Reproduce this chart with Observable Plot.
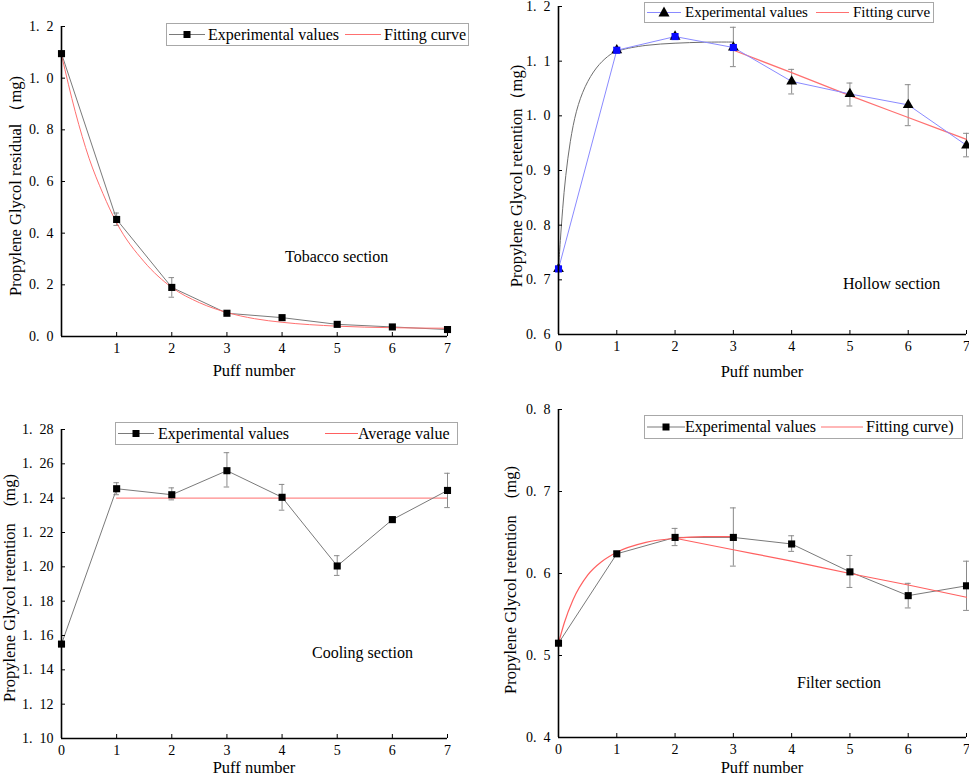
<!DOCTYPE html>
<html>
<head>
<meta charset="utf-8">
<script src="https://cdn.jsdelivr.net/npm/d3@7"></script>
<script src="https://cdn.jsdelivr.net/npm/@observablehq/plot@0.6"></script>
<style>
  html, body { margin: 0; padding: 0; background: #fff; }
  #root { position: relative; width: 969px; height: 779px; background: #fff; overflow: hidden;
          font-family: "Liberation Serif", "DejaVu Serif", serif; color: #000; }
  #root svg text { font-family: "Liberation Serif", "DejaVu Serif", serif !important; }
  .panel { position: absolute; }
  .ttl { position: absolute; white-space: nowrap; font-size: 16.5px; line-height: 1; }
  .ytl { transform: translate(-50%, -50%) rotate(-90deg); }
  .xtl { transform: translate(-50%, -50%); }
  .sec { position: absolute; white-space: nowrap; font-size: 16px; line-height: 1; transform: translateY(-50%); }
  .lg { position: absolute; border: 1px solid #a8a8a8; box-sizing: border-box; background: #fff; font-size: 16px; }
  .lg span { position: absolute; top: 0; white-space: nowrap; }
  .lg svg { position: absolute; top: 0; }
</style>
</head>
<body>
<div id="root"></div>
<script>
// ---------------- DATA ----------------
const puffs = [0, 1, 2, 3, 4, 5, 6, 7];

// Tobacco section (residual)
const tobaccoExp = [1.095, 0.453, 0.190, 0.090, 0.073, 0.047, 0.037, 0.027];
const tobaccoLo  = [1.090, 0.430, 0.152, 0.085, 0.068, 0.043, 0.033, 0.022];
const tobaccoHi  = [1.100, 0.478, 0.228, 0.095, 0.078, 0.051, 0.041, 0.032];
const tobaccoFitX = [0, 0.25, 0.5, 0.75, 1, 1.5, 2, 2.5, 3, 3.5, 4, 5, 6, 7];
const tobaccoFitY = [1.09, 0.87, 0.69, 0.554, 0.44, 0.289, 0.19, 0.131, 0.093, 0.069, 0.055, 0.040, 0.034, 0.032];

// Hollow section (retention)
const hollowExp = [0.720, 1.120, 1.145, 1.125, 1.063, 1.040, 1.020, 0.946];
const hollowLo  = [0.715, 1.115, 1.140, 1.090, 1.040, 1.018, 0.982, 0.925];
const hollowHi  = [0.725, 1.125, 1.150, 1.162, 1.085, 1.060, 1.057, 0.968];
const hollowBluePuffs = [0, 1, 2, 3];
const hollowBlue = [0.720, 1.120, 1.145, 1.125];
const hollowFit1X = [0, 0.03, 0.07, 0.12, 0.2, 0.3, 0.45, 0.65, 0.85, 1, 1.5, 2, 2.5, 3];
const hollowFit1Y = [0.72, 0.77, 0.83, 0.89, 0.955, 1.01, 1.055, 1.09, 1.11, 1.12, 1.13, 1.133, 1.135, 1.135];
const hollowFit2X = [3, 4, 5, 6, 7];
const hollowFit2Y = [1.120, 1.079, 1.037, 0.997, 0.957];

// Cooling section (retention)
const coolingExp = [1.155, 1.2455, 1.242, 1.256, 1.2405, 1.2005, 1.2275, 1.2445];
const coolingLo  = [1.154, 1.242, 1.239, 1.2465, 1.233, 1.195, 1.226, 1.2345];
const coolingHi  = [1.156, 1.249, 1.246, 1.2665, 1.248, 1.2065, 1.229, 1.2545];
const coolingAvgX = [1, 7];
const coolingAvg = 1.24;

// Filter section (retention)
const filterExp = [0.515, 0.624, 0.644, 0.644, 0.636, 0.602, 0.573, 0.585];
const filterLo  = [0.513, 0.621, 0.634, 0.609, 0.627, 0.583, 0.558, 0.555];
const filterHi  = [0.517, 0.627, 0.655, 0.680, 0.646, 0.622, 0.588, 0.615];
const filterFit1X = [0, 0.1, 0.25, 0.5, 0.75, 1, 1.5, 2, 2.5, 3];
const filterFit1Y = [0.515, 0.54, 0.568, 0.598, 0.615, 0.626, 0.638, 0.643, 0.645, 0.645];
const filterFit2X = [2, 3, 4, 5, 6, 7];
const filterFit2Y = [0.643, 0.629, 0.615, 0.600, 0.586, 0.571];

// Tick values
const xTicksTobacco = [1, 2, 3, 4, 5, 6, 7];
const xTicks = [0, 1, 2, 3, 4, 5, 6, 7];
const yTicksTobacco = [0, 0.2, 0.4, 0.6, 0.8, 1.0, 1.2];
const yTicksHollow = [0.6, 0.7, 0.8, 0.9, 1.0, 1.1, 1.2];
const yTicksCooling = [1.10, 1.12, 1.14, 1.16, 1.18, 1.20, 1.22, 1.24, 1.26, 1.28];
const yTicksFilter = [0.4, 0.5, 0.6, 0.7, 0.8];

// ---------------- HELPERS ----------------
const zip = (xs, ys) => xs.map((x, i) => ({x, y: ys[i]}));
const withErr = (ys, lo, hi) => puffs.map((x, i) => ({x, y: ys[i], lo: lo[i], hi: hi[i]}));
const fmt = (n) => (d) => d3.format("." + n + "f")(d).replace(".", ".\u2002");
const CAP = 0.05;
const root = document.getElementById("root");

function errMarks(data) {
  return [
    Plot.ruleX(data, {x: "x", y1: "lo", y2: "hi", stroke: "#8a8a8a", strokeWidth: 1}),
    Plot.ruleY(data, {y: "lo", x1: d => d.x - CAP, x2: d => d.x + CAP, stroke: "#8a8a8a", strokeWidth: 1}),
    Plot.ruleY(data, {y: "hi", x1: d => d.x - CAP, x2: d => d.x + CAP, stroke: "#8a8a8a", strokeWidth: 1})
  ];
}

function axes(xt, yt, yfmt, ymin) {
  return [
    Plot.axisX({ticks: xt, tickSize: -4, tickPadding: 11, tickFormat: d => String(d), label: null, fontSize: 14}),
    Plot.axisY({ticks: yt, tickSize: -4, tickPadding: 12, tickFormat: yfmt, label: null, fontSize: 14}),
    Plot.ruleX([0], {stroke: "#000", strokeWidth: 1.6}),
    Plot.ruleY([ymin], {stroke: "#000", strokeWidth: 1.6})
  ];
}

function panel(left, top, w, h, margins, ydomain, marks) {
  const p = Plot.plot({
    width: w, height: h,
    marginLeft: margins[0], marginRight: margins[1], marginTop: margins[2], marginBottom: margins[3],
    x: {domain: [0, 7]},
    y: {domain: ydomain},
    style: {fontFamily: "'Liberation Serif', serif", fontSize: "14px", color: "#000", background: "transparent", overflow: "visible"},
    marks
  });
  const d = document.createElement("div");
  d.className = "panel";
  d.style.left = left + "px"; d.style.top = top + "px";
  d.appendChild(p);
  root.appendChild(d);
}

function addText(cls, left, top, text) {
  const el = document.createElement("div");
  el.className = cls;
  el.style.left = left + "px"; el.style.top = top + "px";
  el.textContent = text;
  root.appendChild(el);
}

const NS = "http://www.w3.org/2000/svg";
function sample(x, w, h, color, marker, mcolor) {
  const s = document.createElementNS(NS, "svg");
  s.setAttribute("width", w); s.setAttribute("height", h);
  s.style.left = x + "px";
  const l = document.createElementNS(NS, "line");
  l.setAttribute("x1", 0); l.setAttribute("x2", w);
  l.setAttribute("y1", h / 2); l.setAttribute("y2", h / 2);
  l.setAttribute("stroke", color); l.setAttribute("stroke-width", 1.2);
  s.appendChild(l);
  if (marker === "square") {
    const r = document.createElementNS(NS, "rect");
    r.setAttribute("x", w / 2 - 3.5); r.setAttribute("y", h / 2 - 3.5);
    r.setAttribute("width", 7); r.setAttribute("height", 7);
    r.setAttribute("fill", mcolor);
    s.appendChild(r);
  } else if (marker === "triangle") {
    const p = document.createElementNS(NS, "path");
    const cx = w / 2, cy = h / 2;
    p.setAttribute("d", `M${cx},${cy - 6}L${cx + 5.5},${cy + 4}L${cx - 5.5},${cy + 4}Z`);
    p.setAttribute("fill", mcolor);
    s.appendChild(p);
  }
  return s;
}

function legend(left, top, w, h, parts, fontSize) {
  const box = document.createElement("div");
  box.className = "lg";
  box.style.left = left + "px"; box.style.top = top + "px";
  box.style.width = w + "px"; box.style.height = h + "px";
  if (fontSize) box.style.fontSize = fontSize + "px";
  const ih = h - 2;
  for (const p of parts) {
    if (p.text) {
      const s = document.createElement("span");
      s.style.left = p.x + "px";
      s.style.lineHeight = ih + "px";
      s.textContent = p.text;
      box.appendChild(s);
    } else {
      box.appendChild(sample(p.x, p.w, ih, p.color, p.marker, p.mcolor));
    }
  }
  root.appendChild(box);
}

// ---------------- PANEL 1: Tobacco ----------------
{
  const exp = withErr(tobaccoExp, tobaccoLo, tobaccoHi);
  panel(0, 0, 485, 390, [61, 38, 26, 54], [0, 1.2], [
    ...errMarks(exp),
    Plot.line(exp, {x: "x", y: "y", stroke: "#7a7a7a", strokeWidth: 1}),
    Plot.line(zip(tobaccoFitX, tobaccoFitY), {x: "x", y: "y", stroke: "#ff7070", strokeWidth: 1, curve: "monotone-x"}),
    Plot.dot(exp, {x: "x", y: "y", symbol: "square", r: 4, fill: "#000"}),
    ...axes(xTicksTobacco, yTicksTobacco, fmt(1), 0)
  ]);
  legend(166, 23, 303, 23, [
    {x: 2, w: 36, color: "#7a7a7a", marker: "square", mcolor: "#000"},
    {x: 41, text: "Experimental values"},
    {x: 178, w: 36, color: "#ff7070"},
    {x: 217, text: "Fitting curve"}
  ]);
  addText("ttl ytl", 16, 186, "Propylene Glycol residual （mg)");
  addText("ttl xtl", 254, 371, "Puff number");
  addText("sec", 285, 257, "Tobacco section");
}

// ---------------- PANEL 2: Hollow ----------------
{
  const exp = withErr(hollowExp, hollowLo, hollowHi);
  panel(485, 0, 484, 390, [73, 3, 6, 56], [0.6, 1.2], [
    ...errMarks(exp),
    Plot.line(zip(hollowFit1X, hollowFit1Y), {x: "x", y: "y", stroke: "#6e6e6e", strokeWidth: 1, curve: "basis"}),
    Plot.line(zip(hollowFit2X, hollowFit2Y), {x: "x", y: "y", stroke: "#ff7070", strokeWidth: 1.2, curve: "monotone-x"}),
    Plot.line(exp, {x: "x", y: "y", stroke: "#8a8aff", strokeWidth: 1}),
    Plot.dot(exp, {x: "x", y: "y", symbol: "triangle", r: 4, fill: "#000"}),
    Plot.dot(zip(hollowBluePuffs, hollowBlue), {x: "x", y: "y", symbol: "square", r: 4, fill: "#0a0aff"}),
    ...axes(xTicks, yTicksHollow, fmt(1), 0.6)
  ]);
  legend(644, 2, 290, 21, [
    {x: 2, w: 34, color: "#8a8aff", marker: "triangle", mcolor: "#000"},
    {x: 40, text: "Experimental values"},
    {x: 171, w: 33, color: "#ff7070"},
    {x: 208, text: "Fitting curve"}
  ], 15);
  addText("ttl ytl", 517, 176, "Propylene Glycol  retention（mg)");
  addText("ttl xtl", 762, 372, "Puff number");
  addText("sec", 843, 284, "Hollow section");
}

// ---------------- PANEL 3: Cooling ----------------
{
  const exp = withErr(coolingExp, coolingLo, coolingHi);
  panel(0, 390, 485, 389, [61, 38, 39, 41], [1.10, 1.28], [
    ...errMarks(exp),
    Plot.ruleY([coolingAvg], {x1: coolingAvgX[0], x2: coolingAvgX[1], stroke: "#ff8a8a", strokeWidth: 1.3}),
    Plot.line(exp, {x: "x", y: "y", stroke: "#7a7a7a", strokeWidth: 1}),
    Plot.dot(exp, {x: "x", y: "y", symbol: "square", r: 4, fill: "#000"}),
    ...axes(xTicks, yTicksCooling, fmt(2), 1.10)
  ]);
  legend(115, 422, 343, 23, [
    {x: 2, w: 36, color: "#7a7a7a", marker: "square", mcolor: "#000"},
    {x: 42, text: "Experimental values"},
    {x: 209, w: 33, color: "#ff6060"},
    {x: 242, text: "Average value"}
  ]);
  addText("ttl ytl", 10, 588, "Propylene Glycol retention　(mg)");
  addText("ttl xtl", 254, 768, "Puff number");
  addText("sec", 312, 653, "Cooling section");
}

// ---------------- PANEL 4: Filter ----------------
{
  const exp = withErr(filterExp, filterLo, filterHi);
  panel(485, 390, 484, 389, [73, 3, 19, 42], [0.4, 0.8], [
    ...errMarks(exp),
    Plot.line(exp, {x: "x", y: "y", stroke: "#7a7a7a", strokeWidth: 1}),
    Plot.line(zip(filterFit1X, filterFit1Y), {x: "x", y: "y", stroke: "#ff6060", strokeWidth: 1.2, curve: "monotone-x"}),
    Plot.line(zip(filterFit2X, filterFit2Y), {x: "x", y: "y", stroke: "#ff6060", strokeWidth: 1.2, curve: "monotone-x"}),
    Plot.dot(exp, {x: "x", y: "y", symbol: "square", r: 4, fill: "#000"}),
    ...axes(xTicks, yTicksFilter, fmt(1), 0.4)
  ]);
  legend(644, 415, 319, 24, [
    {x: 2, w: 38, color: "#7a7a7a", marker: "square", mcolor: "#000"},
    {x: 40, text: "Experimental values"},
    {x: 176, w: 42, color: "#ff7070"},
    {x: 221, text: "Fitting curve)"}
  ]);
  addText("ttl ytl", 511, 580, "Propylene Glycol retention　(mg)");
  addText("ttl xtl", 762, 768, "Puff number");
  addText("sec", 797, 683, "Filter section");
}
</script>
</body>
</html>
